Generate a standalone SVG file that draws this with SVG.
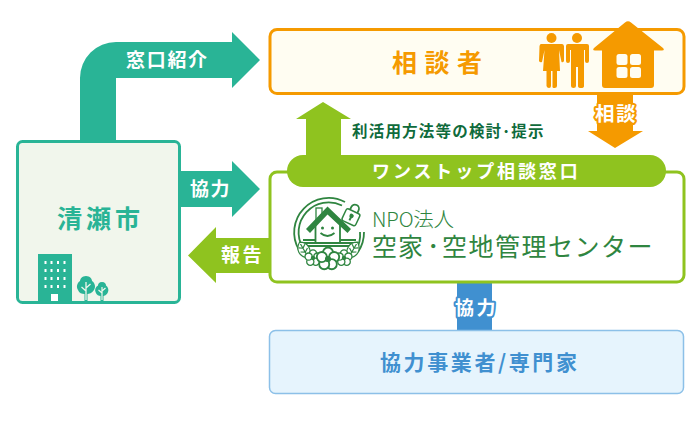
<svg xmlns="http://www.w3.org/2000/svg" xmlns:xlink="http://www.w3.org/1999/xlink" width="700" height="430" viewBox="0 0 700 430">
<style>
text{font-family:"Noto Sans CJK JP","Noto Sans",sans-serif;font-weight:700}
.w{fill:#fff}
.box{stroke-width:3}
.lg{fill:none;stroke:#2f8540;stroke-width:1.800}
.lgf{fill:#2f8540}
.lt{fill:#2f8540;font-weight:400}
.pt{fill:#fff;stroke:#2f8540;stroke-width:1.300}
</style>
<defs>
<g id="flower">
<circle cx="0" cy="-4.6" r="3.6" class="pt"/><circle cx="4.400" cy="-1.400" r="3.600" class="pt"/><circle cx="2.700" cy="3.700" r="3.600" class="pt"/><circle cx="-2.700" cy="3.700" r="3.600" class="pt"/><circle cx="-4.400" cy="-1.400" r="3.600" class="pt"/>
<circle cx="0" cy="0" r="2.200" class="lgf"/>
</g>
<path id="leaf" d="M0,-9C7,-5 8,4 0,9C-8,4 -7,-5 0,-9ZM0,-7V8M0,-2L-3.500,-4.500M0,-2L3.500,-4.500M0,2.500L-4,0M0,2.500L4,0" fill="#fff" stroke="#2f8540" stroke-width="1.200"/>
</defs>
<g id="connectors">
<path id="c-city-consult" fill="#29b496" d="M80,142V78A36,36 0 0 1 116,42H232V32L260,60L232,88V78H116V142Z"/>
<text class="w" x="126" y="67" font-size="19" letter-spacing="1.700">窓口紹介</text>
<path id="c-city-onestop" fill="#29b496" d="M178,171H232V161L260,189L232,217V207H178Z"/>
<text class="w" x="190" y="196" font-size="19" letter-spacing="1.500">協力</text>
<path id="c-onestop-city" fill="#8fc31f" d="M272,238H216V227L188,255.500L216,283V273H272Z"/>
<text class="w" x="221" y="262" font-size="19" letter-spacing="2.500">報告</text>
<path id="c-onestop-consult" fill="#8fc31f" d="M306,160V119H296L323,102L351,119H341V160Z"/>
<text x="352" y="137" font-size="15.500" fill="#0f6b3c" letter-spacing="1.200">利活用方法等の検討･提示</text>
<path id="c-consult" fill="#f59a00" d="M597,90H633V131H643L615,148L588,131H597Z"/>
<text class="w" x="595" y="121" font-size="19.500" letter-spacing="1.500" stroke="#f59a00" stroke-width="4" stroke-linejoin="round" paint-order="stroke">相談</text>
<path id="c-partner" fill="#4090d0" d="M457,280H492V332H457Z"/>
<text class="w" x="455" y="315" font-size="19" letter-spacing="2.500" stroke="#4090d0" stroke-width="4" stroke-linejoin="round" paint-order="stroke">協力</text>
</g>
<g id="node-consultant">
<rect class="box" x="270" y="29.500" width="414" height="64" rx="7" fill="#fffdf2" stroke="#f59a00"/>
<text x="392" y="72" font-size="25" letter-spacing="7.500" fill="#f59a00">相談者</text>
<g fill="#f59a00">
<circle cx="551.500" cy="38" r="5"/>
<path d="M541,44H562Q563.500,44 564,46L564,61Q563,63 561.500,62L559,50L560,71H557V86Q557,88 554.500,88T552.500,86V71H551V86Q551,88 549,88T546.500,86V71H543L544.500,50L542,62Q540,63 539,61L539.500,46Q540,44 541,44Z"/>
<circle cx="577" cy="38" r="5"/>
<path d="M568,44H587Q589,44 589,46V61Q589,63 587,63T585,61V50H584V86Q584,88 581,88T578,86V67H576V86Q576,88 573.500,88T571,86V50H570V61Q570,63 568,63T566,61V46Q566,44 568,44Z"/>
<path d="M625,22.500Q628,20 631,22.500L663,48Q665,50.500 662,50.500H654V85Q654,88 651,88H605Q602,88 602,85V50.500H595Q592,50.500 594,48Z"/>
</g>
<g fill="#fffdf2">
<rect x="616.500" y="54" width="11" height="11" rx="2.500"/><rect x="630" y="54" width="11" height="11" rx="2.500"/>
<rect x="616.500" y="67" width="11" height="11" rx="2.500"/><rect x="630" y="67" width="11" height="11" rx="2.500"/>
</g>
</g>
<g id="node-city">
<rect class="box" x="17.500" y="141.500" width="162" height="161" rx="5" fill="#f1f6ec" stroke="#29b496"/>
<text x="57" y="228" font-size="25" letter-spacing="4" fill="#29b496">清瀬市</text>
<rect x="38" y="254" width="34" height="47" fill="#29b496"/>
<g fill="#fff">
<path d="M44.500,261v3h2v-3zM50.500,261v3h2v-3zM57,261v3h2v-3zM63.500,261v3h2v-3zM44.500,269v3h2v-3zM50.500,269v3h2v-3zM57,269v3h2v-3zM63.500,269v3h2v-3zM44.500,277v3h2v-3zM50.500,277v3h2v-3zM57,277v3h2v-3zM63.500,277v3h2v-3zM44.500,285v3h2v-3zM50.500,285v3h2v-3zM57,285v3h2v-3zM63.500,285v3h2v-3z"/>
<rect x="51" y="294" width="7" height="7"/>
</g>
<path fill="#29b496" d="M86,276C90,276 92,279 92,281C95,283 96,287 94,290C92,293 89,294 87.500,294V301H84.500V294C82,294 79,293 78,290C76,287 77,283 80,281C80,279 82,276 86,276Z"/>
<path stroke="#f1f6ec" stroke-width="1.300" fill="none" d="M86,282V300M86,291L81.500,287M86,288L90.500,284"/>
<path fill="#29b496" d="M102,282C105,282 106,284 106,285.500C108,287 109,290 108,292C107,295 104,296 103.500,296V301H100.500V296C99,296 96.500,295 95.500,292C94.500,290 95.500,287 98,285.500C98,284 99,282 102,282Z"/>
<path stroke="#f1f6ec" stroke-width="1.200" fill="none" d="M102,287V300M102,293L98.500,290M102,291L105.500,288"/>
</g>
<g id="node-onestop">
<rect class="box" x="270" y="172" width="414" height="110" rx="7" fill="#fff" stroke="#8fc31f"/>
<rect x="287" y="155" width="379" height="32" rx="16" fill="#8fc31f"/>
<text class="w" x="372" y="178" font-size="18" letter-spacing="2.900">ワンストップ相談窓口</text>
<g id="logo">
<path class="lg" d="M299,250A34.500,34.500 0 0 1 345,202"/>
<path class="lg" d="M358,252A34.500,34.500 0 0 0 364,232"/>
<path class="lg" d="M303,248A30,30 0 0 1 342,205.500" stroke-width="1.200"/>
<path class="lg" d="M356,250A30,30 0 0 0 360,232" stroke-width="1.200"/>
<rect class="pt" x="316" y="208" width="6" height="13"/>
<path fill="#fff" d="M327.500,212L340,224V243H315.500V224Z" stroke="#2f8540" stroke-width="1.800"/>
<path class="lgf" d="M327.500,206.500L351,229L347.500,233L327.500,214.500L310,233L306,229Z"/>
<circle cx="322.500" cy="228" r="1.500" class="lgf"/><circle cx="332.500" cy="228" r="1.500" class="lgf"/>
<path class="lg" d="M320.500,233Q327.500,239 334.500,233"/>
<path class="lg" stroke-width="1.100" d="M303,240H315M340,240H356M303,243H356M304,246H354"/>
<g transform="translate(352,215) rotate(25)">
<path class="lg" d="M-4,-4V-7A4,4 0 0 1 4,-7V-4" stroke-width="2"/>
<rect x="-7.500" y="-4" width="15" height="13" rx="2" fill="#fff" stroke="#2f8540" stroke-width="1.500"/>
<circle cx="0" cy="1" r="2.200" class="lgf"/><rect x="-1" y="1" width="2" height="5" class="lgf"/>
</g>
<use xlink:href="#leaf" transform="translate(304,250) rotate(-30)"/>
<use xlink:href="#leaf" transform="translate(353,250) rotate(30)"/>
<use xlink:href="#flower" transform="translate(313,258)"/>
<use xlink:href="#flower" transform="translate(344,258)"/>
<use xlink:href="#flower" transform="translate(328,259) scale(1.400)"/>
</g>
<text class="lt"><tspan x="372" y="227" font-size="20.500" letter-spacing="-0.200" style="font-weight:300">NPO法人</tspan><tspan x="372" y="256" font-size="25" letter-spacing="1">空家</tspan><tspan x="427" y="256" font-size="25">･</tspan><tspan x="442" y="256" font-size="25" letter-spacing="1.500">空地管理センター</tspan></text>
</g>
<g id="node-partner">
<rect x="269.500" y="330.500" width="414" height="63" rx="6" fill="#e6f4fd" stroke="#8cc0e8" stroke-width="1.500"/>
<text x="380" y="370" font-size="21" letter-spacing="2.600" fill="#4090d0">協力事業者/専門家</text>
</g>
</svg>
